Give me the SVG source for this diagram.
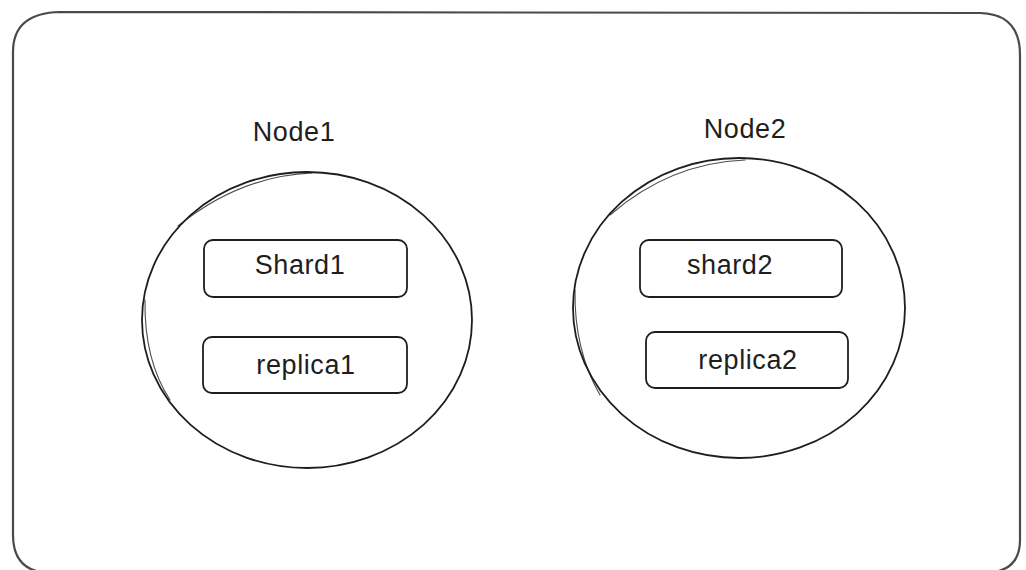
<svg xmlns="http://www.w3.org/2000/svg" width="1026" height="570" viewBox="0 0 1026 570">
  <style>
    .ink { fill: none; stroke: #1e1e1e; stroke-width: 1.8; stroke-linecap: round; stroke-linejoin: round; }
    .ink2 { fill: none; stroke: #1e1e1e; stroke-width: 1.1; stroke-linecap: round; opacity: 0.8; }
    .frame { fill: none; stroke: #4a4a4a; stroke-width: 2.2; }
    .label { font-family: "Liberation Sans", "DejaVu Sans", sans-serif; font-size: 27px; letter-spacing: 0.6px; fill: #1e1e1e; text-anchor: middle; }
  </style>
  <rect width="1026" height="570" fill="#ffffff"/>

  <!-- cluster frame -->
  <g id="cluster">
    <path class="frame" d="M13,52 Q13,13 60,12 L980,13 Q1020,14 1020,55 L1020,540 Q1020,572 985,573 L50,573 Q13,572 13,535 Z"/>
  </g>

  <!-- Node1 -->
  <g id="node1">
    <text class="label" x="294" y="141">Node1</text>
    <ellipse class="ink" cx="307" cy="320" rx="165" ry="148"/>
    <path class="ink2" d="M178,226 Q240,176 312,173"/>
    <path class="ink2" d="M145,300 Q144,360 170,400"/>
  </g>
  <g id="shard1">
    <rect class="ink" x="204" y="240" width="203" height="57" rx="9"/>
    <text class="label" x="300" y="274">Shard1</text>
  </g>
  <g id="replica1">
    <rect class="ink" x="203" y="337" width="204" height="56" rx="9"/>
    <text class="label" x="306" y="374">replica1</text>
  </g>

  <!-- Node2 -->
  <g id="node2">
    <text class="label" x="745" y="138">Node2</text>
    <ellipse class="ink" cx="739" cy="308" rx="166" ry="150"/>
    <path class="ink2" d="M610,215 Q670,163 745,160"/>
    <path class="ink2" d="M575,290 Q574,350 600,395"/>
  </g>
  <g id="shard2">
    <rect class="ink" x="640" y="240" width="202" height="57" rx="9"/>
    <text class="label" x="730" y="274">shard2</text>
  </g>
  <g id="replica2">
    <rect class="ink" x="646" y="332" width="202" height="56" rx="9"/>
    <text class="label" x="748" y="369">replica2</text>
  </g>

  <g id="connectors"/>
</svg>
